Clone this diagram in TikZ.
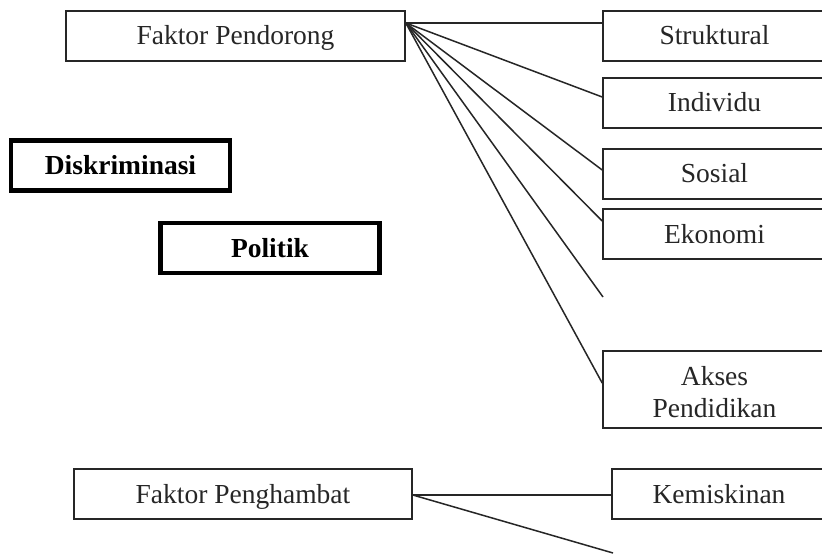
\documentclass[tikz,border=0pt]{standalone}
\usepackage{fontspec}
\setmainfont{Liberation Serif}
\begin{document}
\begin{tikzpicture}[x=0.5pt,y=-0.5pt,
  box/.style={draw=black!85, line width=0.8pt, inner sep=0pt, font=\fontsize{13.75pt}{16pt}\selectfont, text=black!85, text height=9pt, text depth=0pt},
  rbox/.style={box, minimum width=111.5pt, minimum height=25pt},
  thickbox/.style={draw=black, line width=2.1pt, inner sep=0pt, font=\fontsize{13.75pt}{16pt}\selectfont\bfseries, minimum width=109.5pt, minimum height=25pt, text height=9pt, text depth=0pt},
  conn/.style={draw=black!85, line width=0.75pt}]
\useasboundingbox (0,0) rectangle (822,555);
\clip (0,0) rectangle (822,555);
\fill[white] (0,0) rectangle (822,555);
% nodes
\node[box, minimum width=169.5pt, minimum height=25pt] (fp) at (235.5,36) {Faktor Pendorong};
\node[rbox] (st) at (714.5,36) {Struktural};
\node[rbox] (in) at (714.5,103) {Individu};
\node[rbox] (so) at (714.5,174) {Sosial};
\node[rbox] (ek) at (714.5,234) {Ekonomi};
\node[draw=black!85, line width=0.8pt, inner sep=0pt, text=black!85, font=\fontsize{13.75pt}{16pt}\selectfont, minimum width=111.5pt, minimum height=38.5pt] (ak) at (714.5,389.5) {\raisebox{-3pt}[\height][\depth]{\begin{tabular}{@{}c@{}}Akses\\Pendidikan\end{tabular}}};
\node[box, minimum width=169pt, minimum height=25pt] (fh) at (243,494) {Faktor Penghambat};
\node[box, minimum width=107pt, minimum height=25pt, line width=1pt] (ke) at (719,494) {Kemiskinan};
\node[thickbox] (di) at (120.5,165.5) {Diskriminasi};
\node[thickbox] (po) at (270,248) {Politik};
% free ends
\coordinate (e1) at (603,297);
\coordinate (e2) at (613,553);
% connectors
\coordinate (src) at ([yshift=6.5pt]fp.east);
\draw[conn] (src) -- ([yshift=6.5pt]st.west);
\draw[conn] (src) -- ([yshift=3pt]in.west);
\draw[conn] (src) -- ([yshift=2pt]so.west);
\draw[conn] (src) -- ([yshift=6.5pt]ek.west);
\draw[conn] (src) -- (e1);
\draw[conn] (src) -- ([yshift=3.25pt]ak.west);
\draw[conn, line width=1.1pt] ([yshift=-0.5pt]fh.east) -- ([yshift=-0.5pt]ke.west);
\draw[conn] ([yshift=-0.5pt]fh.east) -- (e2);
\end{tikzpicture}
\end{document}
